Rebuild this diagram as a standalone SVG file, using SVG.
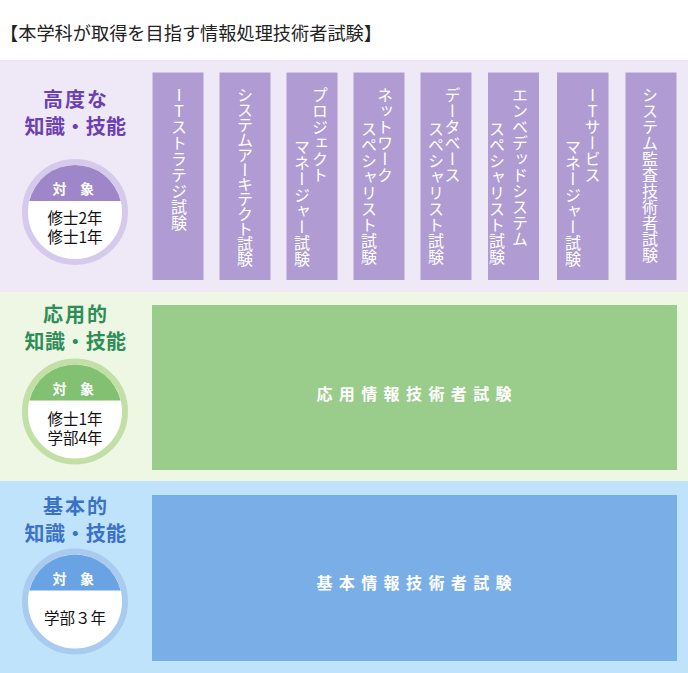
<svg xmlns="http://www.w3.org/2000/svg" width="688" height="673" viewBox="0 0 688 673">
<style>
text{font-family:"Noto Sans CJK JP","Noto Sans",sans-serif;}
.title{font-size:18.2px;fill:#222;}
.head{font-size:20px;font-weight:bold;text-anchor:middle;letter-spacing:2px;}
.tgt{font-size:14px;font-weight:bold;fill:#fff;text-anchor:middle;}
.who{font-size:15.5px;fill:#111;text-anchor:middle;}
.vt{font-size:16px;fill:#fff;writing-mode:vertical-rl;}
.up{text-orientation:upright;}
.big{font-size:16px;fill:#fff;text-anchor:middle;letter-spacing:6.4px;font-weight:bold;}
.col{fill:#b09bd3;}
</style>
<rect x="0" y="0" width="688" height="673" fill="#fff"/>
<text class="title" x="0" y="40">【本学科が取得を目指す情報処理技術者試験】</text>

<!-- bands -->
<rect x="0" y="60" width="688" height="232" fill="#eee8f7"/>
<rect x="0" y="292" width="688" height="189" fill="#eef7e3"/>
<rect x="0" y="481" width="688" height="192" fill="#bfe3fb"/>

<!-- purple level -->
<g id="level-advanced">
  <text class="head" fill="#6b40b0" x="76" y="107">高度な</text>
  <text class="head" fill="#6b40b0" x="75.5" y="134" style="letter-spacing:0.4px">知識・技能</text>
</g>
<g id="target-advanced">
  <circle cx="75" cy="212" r="50" fill="#fff" stroke="#d5caec" stroke-width="6"/>
  <path d="M29.3,201 A47,47 0 0 1 120.7,201 Z" fill="#9e86c9"/>
  <text class="tgt" y="193.5"><tspan x="61">対</tspan> <tspan x="87">象</tspan></text>
  <text class="who"><tspan x="75" y="224">修士2年</tspan><tspan x="75" y="243">修士1年</tspan></text>
</g>
<g id="exam-it-strategy">
  <rect class="col" x="152.5" y="72.5" width="51" height="207.5"/>
  <text class="vt up" x="179" y="87">ITストラテジ試験</text>
</g>
<g id="exam-system-architect">
  <rect class="col" x="219.5" y="72.5" width="51" height="207.5"/>
  <text class="vt" x="245" y="87" style="letter-spacing:-1.1px">システムアーキテクト試験</text>
</g>
<g id="exam-project-manager">
  <rect class="col" x="286.5" y="72.5" width="51" height="207.5"/>
  <text class="vt" x="320" y="87">プロジェクト</text>
  <text class="vt" x="302" y="139">マネージャー試験</text>
</g>
<g id="exam-network">
  <rect class="col" x="353.5" y="72.5" width="51" height="207.5"/>
  <text class="vt" x="385" y="87">ネットワーク</text>
  <text class="vt" x="369" y="121">スペシャリスト試験</text>
</g>
<g id="exam-database">
  <rect class="col" x="420.5" y="72.5" width="51" height="207.5"/>
  <text class="vt" x="452.5" y="87">データベース</text>
  <text class="vt" x="436" y="121">スペシャリスト試験</text>
</g>
<g id="exam-embedded">
  <rect class="col" x="488" y="72.5" width="51" height="207.5"/>
  <text class="vt" x="520" y="87">エンベデッドシステム</text>
  <text class="vt" x="497" y="121">スペシャリスト試験</text>
</g>
<g id="exam-it-service">
  <rect class="col" x="557" y="72.5" width="51.5" height="207.5"/>
  <text class="vt up" x="592.5" y="87">ITサービス</text>
  <text class="vt" x="573" y="139">マネージャー試験</text>
</g>
<g id="exam-audit">
  <rect class="col" x="625.5" y="72.5" width="51" height="207.5"/>
  <text class="vt" x="650" y="87">システム監査技術者試験</text>
</g>

<!-- green level -->
<g id="level-applied">
  <text class="head" fill="#2f8e58" x="76" y="322">応用的</text>
  <text class="head" fill="#2f8e58" x="75.5" y="349" style="letter-spacing:0.4px">知識・技能</text>
</g>
<g id="target-applied">
  <circle cx="75" cy="411.5" r="50" fill="#fff" stroke="#c2dfa6" stroke-width="6"/>
  <path d="M29.3,400.5 A47,47 0 0 1 120.7,400.5 Z" fill="#83c172"/>
  <text class="tgt" y="393.5"><tspan x="61">対</tspan> <tspan x="87">象</tspan></text>
  <text class="who"><tspan x="75" y="424.5">修士1年</tspan><tspan x="75" y="443.5">学部4年</tspan></text>
</g>
<g id="exam-applied">
  <rect x="152" y="305" width="525" height="165" fill="#9acc8b"/>
  <text class="big" x="417.2" y="399.6">応用情報技術者試験</text>
</g>

<!-- blue level -->
<g id="level-basic">
  <text class="head" fill="#3b72c6" x="76" y="513.5">基本的</text>
  <text class="head" fill="#3b72c6" x="75.5" y="540.5" style="letter-spacing:0.4px">知識・技能</text>
</g>
<g id="target-basic">
  <circle cx="75" cy="601.5" r="50" fill="#fff" stroke="#a8cbef" stroke-width="6"/>
  <path d="M29.3,590.5 A47,47 0 0 1 120.7,590.5 Z" fill="#6aa3e3"/>
  <text class="tgt" y="583.5"><tspan x="61">対</tspan> <tspan x="87">象</tspan></text>
  <text class="who" x="75" y="624">学部３年</text>
</g>
<g id="exam-basic">
  <rect x="152" y="495" width="525" height="166" fill="#7aaee6"/>
  <text class="big" x="417.2" y="589.4">基本情報技術者試験</text>
</g>

<g id="connectors"></g>
</svg>
